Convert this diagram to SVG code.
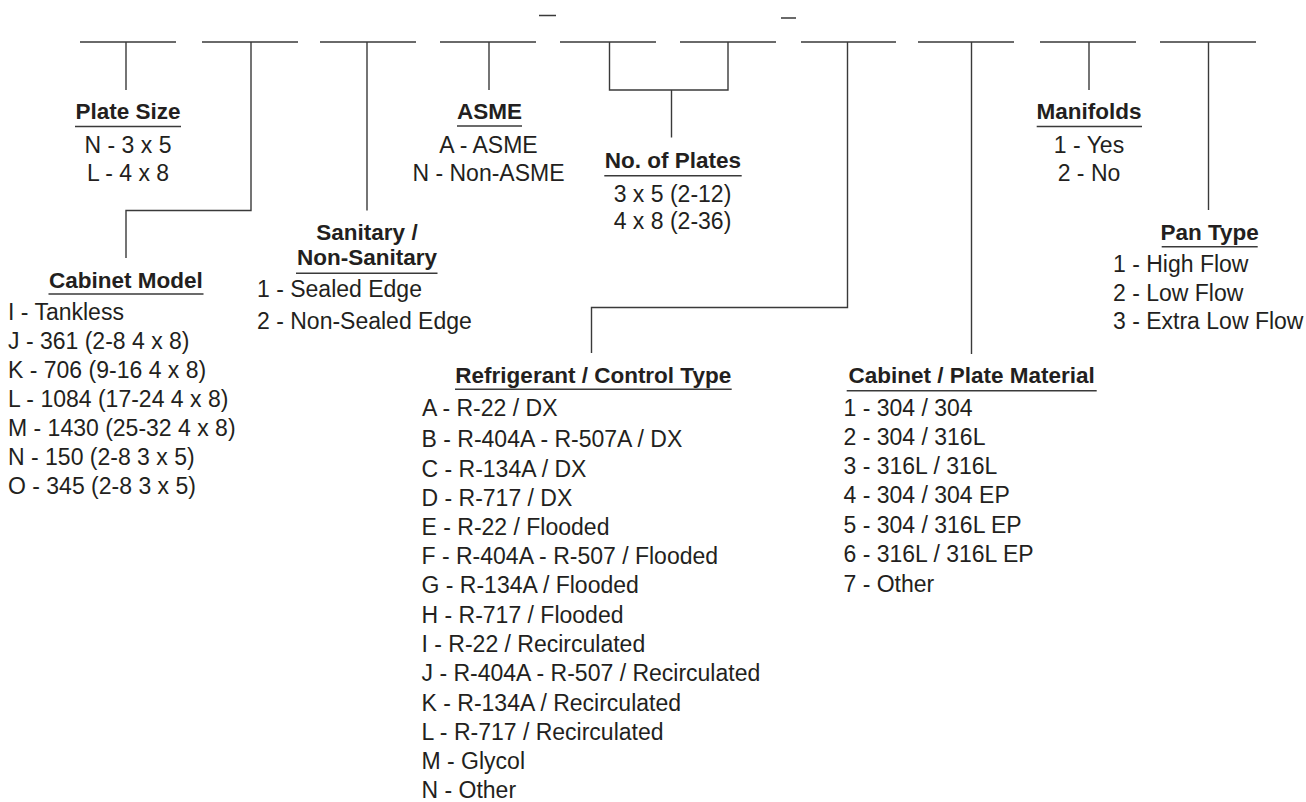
<svg xmlns="http://www.w3.org/2000/svg" width="1306" height="802" viewBox="0 0 1306 802">
<style>
.ln{stroke:#3a3a3a;stroke-width:1.4;fill:none}
.ul{stroke:#3a3a3a;stroke-width:1.4}
text{font-family:"Liberation Sans",Arial,sans-serif;font-size:23px;fill:#231f20}
.t{font-weight:bold;font-size:22.5px}
.c{text-anchor:middle}
</style>
<rect width="1306" height="802" fill="#ffffff"/>
<g id="connectors">
<path class="ln" d="M80 42H176M202 42H298M320 42H416M440 42H536M560 42H656M680 42H776M801 42H896M918 42H1014M1040 42H1136M1160 42H1256"/>
<path class="ln" d="M539 15.5H556M781 18H796"/>
<path class="ln" d="M126 42V90"/>
<path class="ln" d="M251 42V210.5H126V258"/>
<path class="ln" d="M367 42V210.5"/>
<path class="ln" d="M489 42V90"/>
<path class="ln" d="M609.5 42V90H728V42M671.5 90V137.5"/>
<path class="ln" d="M847.5 42V307.5H591.5V353"/>
<path class="ln" d="M971.5 42V354"/>
<path class="ln" d="M1089 42V90"/>
<path class="ln" d="M1208.5 42V210"/>
</g>
<g id="plate-size">
<text class="t c" x="128" y="119">Plate Size</text>
<line class="ul" x1="75" y1="126.5" x2="181" y2="126.5"/>
<text class="c" x="128" y="152.5">N - 3 x 5</text>
<text class="c" x="128" y="181">L - 4 x 8</text>
</g>
<g id="cabinet-model">
<text class="t c" x="126" y="287.5">Cabinet Model</text>
<line class="ul" x1="48.5" y1="294" x2="203.5" y2="294"/>
<text x="8" y="320">I - Tankless</text>
<text x="8" y="349.3">J - 361 (2-8 4 x 8)</text>
<text x="8" y="378.3">K - 706 (9-16 4 x 8)</text>
<text x="8" y="406.9">L - 1084 (17-24 4 x 8)</text>
<text x="8" y="436">M - 1430 (25-32 4 x 8)</text>
<text x="8" y="464.5">N - 150 (2-8 3 x 5)</text>
<text x="8" y="493.5">O - 345 (2-8 3 x 5)</text>
</g>
<g id="sanitary">
<text class="t c" x="367" y="240">Sanitary /</text>
<text class="t c" x="367" y="265">Non-Sanitary</text>
<line class="ul" x1="296" y1="273.3" x2="437.5" y2="273.3"/>
<text x="257" y="297.3">1 - Sealed Edge</text>
<text x="257" y="329.3">2 - Non-Sealed Edge</text>
</g>
<g id="asme">
<text class="t c" x="489.5" y="119">ASME</text>
<line class="ul" x1="457" y1="126" x2="522" y2="126"/>
<text class="c" x="488.5" y="152.5">A - ASME</text>
<text class="c" x="488.5" y="180.5">N - Non-ASME</text>
</g>
<g id="no-of-plates">
<text class="t c" x="673" y="168.3">No. of Plates</text>
<line class="ul" x1="604.3" y1="175.8" x2="741.7" y2="175.8"/>
<text class="c" x="672.5" y="201.7">3 x 5 (2-12)</text>
<text class="c" x="672.5" y="229.3">4 x 8 (2-36)</text>
</g>
<g id="refrigerant">
<text class="t c" x="593.3" y="382.7">Refrigerant / Control Type</text>
<line class="ul" x1="455" y1="389.3" x2="731.7" y2="389.3"/>
<text x="422" y="416">A - R-22 / DX</text>
<text x="421.5" y="447">B - R-404A - R-507A / DX</text>
<text x="421.5" y="476.5">C - R-134A / DX</text>
<text x="421.5" y="505.5">D - R-717 / DX</text>
<text x="421.5" y="535">E - R-22 / Flooded</text>
<text x="421.5" y="564">F - R-404A - R-507 / Flooded</text>
<text x="421.5" y="593.3">G - R-134A / Flooded</text>
<text x="421.5" y="622.7">H - R-717 / Flooded</text>
<text x="421.5" y="652.3">I - R-22 / Recirculated</text>
<text x="421.5" y="681">J - R-404A - R-507 / Recirculated</text>
<text x="421.5" y="711.3">K - R-134A / Recirculated</text>
<text x="421.5" y="740">L - R-717 / Recirculated</text>
<text x="421.5" y="768.8">M - Glycol</text>
<text x="421.5" y="798.3">N - Other</text>
</g>
<g id="cabinet-plate-material">
<text class="t c" x="971.7" y="383.3">Cabinet / Plate Material</text>
<line class="ul" x1="846.7" y1="390.7" x2="1096.7" y2="390.7"/>
<text x="843.5" y="416">1 - 304 / 304</text>
<text x="843.5" y="445">2 - 304 / 316L</text>
<text x="843.5" y="474">3 - 316L / 316L</text>
<text x="843.5" y="503.3">4 - 304 / 304 EP</text>
<text x="843.5" y="532.7">5 - 304 / 316L EP</text>
<text x="843.5" y="561.7">6 - 316L / 316L EP</text>
<text x="843.5" y="591.7">7 - Other</text>
</g>
<g id="manifolds">
<text class="t c" x="1089" y="119">Manifolds</text>
<line class="ul" x1="1036.7" y1="126.5" x2="1142" y2="126.5"/>
<text class="c" x="1089" y="152.5">1 - Yes</text>
<text class="c" x="1089" y="181">2 - No</text>
</g>
<g id="pan-type">
<text class="t c" x="1209.7" y="240">Pan Type</text>
<line class="ul" x1="1161.7" y1="246.7" x2="1257.7" y2="246.7"/>
<text x="1113" y="271.7">1 - High Flow</text>
<text x="1113" y="300.7">2 - Low Flow</text>
<text x="1113" y="329.3">3 - Extra Low Flow</text>
</g>
</svg>
